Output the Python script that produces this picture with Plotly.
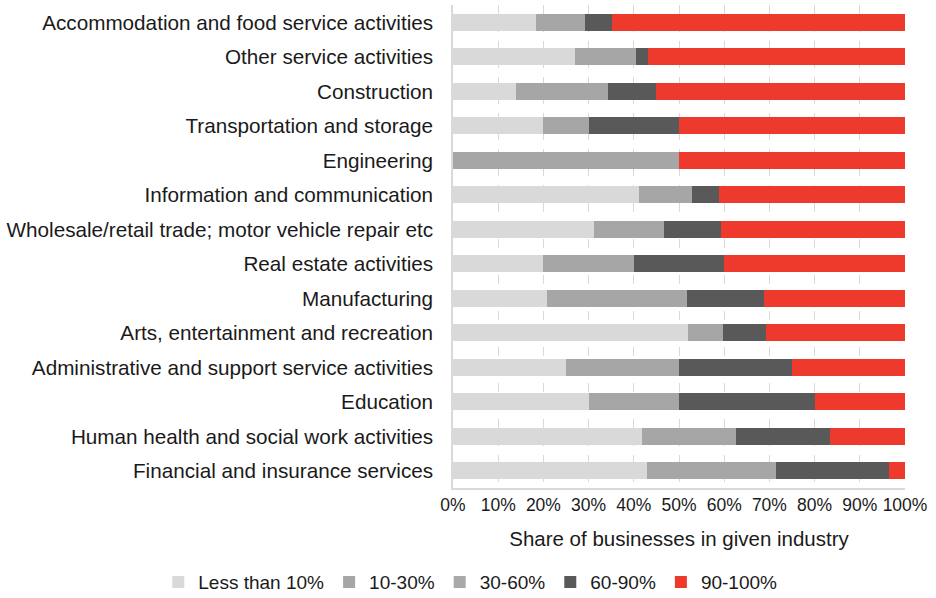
"""Stacked share-of-businesses chart by industry."""

import plotly.graph_objects as go

industries = [
    "Accommodation and food service activities",
    "Other service activities",
    "Construction",
    "Transportation and storage",
    "Engineering",
    "Information and communication",
    "Wholesale/retail trade; motor vehicle repair etc",
    "Real estate activities",
    "Manufacturing",
    "Arts, entertainment and recreation",
    "Administrative and support service activities",
    "Education",
    "Human health and social work activities",
    "Financial and insurance services",
]

less_than_10 = [18.4, 26.9, 13.9, 19.9, 0.0, 41.2, 31.2, 19.9, 20.7, 52.0, 25.0, 30.0, 41.8, 43.0]
# 10-30% and 30-60% share the same grey in the picture; the visible band is kept here
share_10_30 = [10.9, 13.5, 20.5, 10.2, 50.0, 11.7, 15.4, 20.2, 31.0, 7.8, 25.0, 20.0, 20.8, 28.4]
share_30_60 = [0.0] * 14
share_60_90 = [5.9, 2.8, 10.5, 19.9, 0.0, 6.0, 12.6, 19.9, 17.2, 9.4, 25.1, 30.0, 20.8, 25.1]
share_90_100 = [64.8, 56.8, 55.1, 50.0, 50.0, 41.1, 40.8, 40.0, 31.1, 30.8, 24.9, 20.0, 16.6, 3.5]

series = [
    ("Less than 10%", less_than_10, "#d9d9d9"),
    ("10-30%", share_10_30, "#a6a6a6"),
    ("30-60%", share_30_60, "#a9a9a9"),
    ("60-90%", share_60_90, "#595959"),
    ("90-100%", share_90_100, "#ee3a2c"),
]

FONT = "Liberation Sans, Arial, Helvetica, sans-serif"

fig = go.Figure()
for name, values, color in series:
    fig.add_trace(
        go.Bar(
            y=industries,
            x=values,
            name=name,
            orientation="h",
            marker={"color": color, "line": {"width": 0}},
        )
    )

fig.update_layout(
    barmode="stack",
    bargap=0.5,
    width=936,
    height=598,
    paper_bgcolor="white",
    plot_bgcolor="white",
    font={"family": FONT, "size": 20.7, "color": "#1a1a1a"},
    margin={"l": 453, "r": 31, "t": 5, "b": 110, "autoexpand": False},
    legend={
        "orientation": "h",
        "x": -0.652,
        "xanchor": "left",
        "y": -0.195,
        "yanchor": "middle",
        "font": {"size": 19},
        "itemwidth": 30,
        "traceorder": "normal",
    },
)
fig.update_xaxes(
    range=[0, 100],
    dtick=10,
    ticksuffix="%",
    tickangle=0,
    tickfont={"size": 17.5},
    showgrid=True,
    gridcolor="#d9d9d9",
    griddash="dash",
    showline=True,
    linecolor="#d9d9d9",
    linewidth=1.5,
    zeroline=False,
    ticks="",
    title={
        "text": "Share of businesses in given industry",
        "font": {"size": 20.5},
        "standoff": 18,
    },
)
fig.update_yaxes(
    autorange="reversed",
    showline=True,
    linecolor="#d9d9d9",
    linewidth=1.5,
    ticks="",
    ticklabelstandoff=14,
)

fig.write_html(
    "out.html",
    config={"displayModeBar": False},
    post_script="document.body.style.margin = '0';",
)
